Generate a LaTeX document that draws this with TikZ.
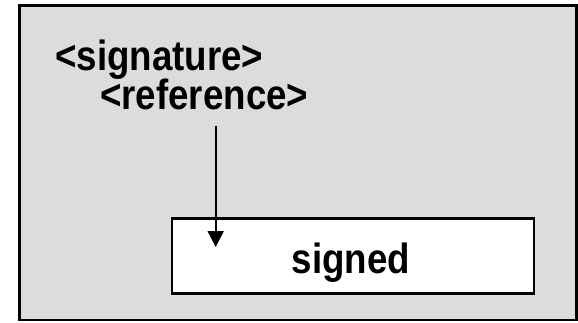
\documentclass[tikz,border=0pt]{standalone}
\usepackage{fontspec}
\usepackage{graphicx}
\setmainfont{Liberation Sans}
\usetikzlibrary{arrows.meta}
\definecolor{panelgray}{HTML}{DCDCDC}
\newcommand{\tallbold}[1]{\scalebox{1}[1.15]{\fontsize{36.7}{40}\selectfont\bfseries #1}}
\tikzset{
  label text/.style={inner sep=0pt, anchor=base west},
}
\begin{document}
\begin{tikzpicture}[x=1pt,y=-1pt]
  \useasboundingbox (0,0) rectangle (578,323);
  % outer panel
  \draw[line width=2.5pt, fill=panelgray] (19.5,5.5) rectangle (576.5,320);
  % inner box
  \node[draw, line width=2.8pt, fill=white, minimum width=362pt, minimum height=75pt, inner sep=0pt,
        anchor=north west] (box) at (170.5,217) {};
  \node[inner sep=0pt, anchor=base] (signed) at (351,273) {\tallbold{signed}};
  % element names
  \node[label text] (sig) at (55,71) {\tallbold{<signature>}};
  \node[label text] (ref) at (100,110) {\tallbold{<reference>}};
  % reference pointer
  \coordinate (tip) at (215.7,247);
  \draw[line width=2pt, -{Triangle[width=16pt,length=16pt]}] (ref.south -| tip) ++(0,15) -- (tip);
\end{tikzpicture}
\end{document}
